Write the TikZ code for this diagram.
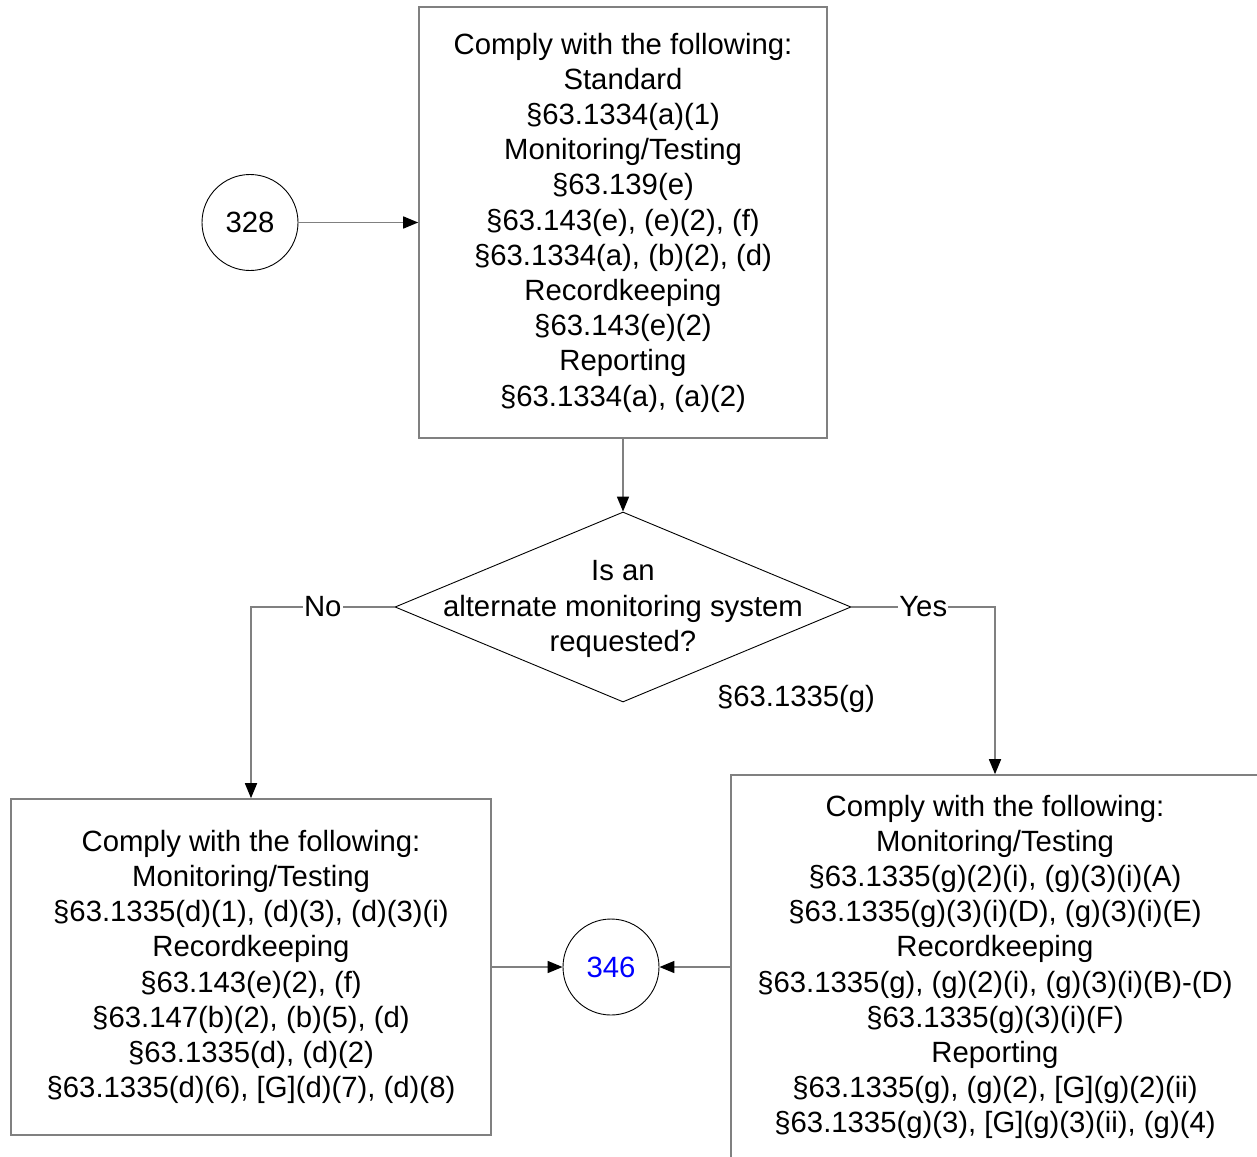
\documentclass[tikz,border=0pt]{standalone}
\usepackage{fontspec}
\setmainfont{Liberation Sans}
\usetikzlibrary{arrows.meta,shapes.geometric}
\definecolor{edgegray}{RGB}{128,128,128}
\definecolor{numblue}{RGB}{0,0,255}
\begin{document}
\begin{tikzpicture}[x=1pt,y=-1pt,
  font=\fontsize{29.3}{35.2}\selectfont,
  box/.style={draw=edgegray,line width=1.6pt,rectangle,align=center,inner sep=0pt},
  conn/.style={draw=edgegray,line width=1.6pt,-{Triangle[length=15pt,width=12pt,color=black]}},
  refcircle/.style={circle,draw=black,line width=0.9pt,minimum size=96pt,inner sep=0pt},
  lbl/.style={fill=white,inner sep=1pt}]
\useasboundingbox (0,0) rectangle (1257,1156);
\fill[white] (0,0) rectangle (1257,1156);

\node[box,minimum width=408pt,minimum height=431pt] (top) at (623,222.5)
 {Comply with the following:\\Standard\\§63.1334(a)(1)\\Monitoring/Testing\\§63.139(e)\\§63.143(e), (e)(2), (f)\\§63.1334(a), (b)(2), (d)\\Recordkeeping\\§63.143(e)(2)\\Reporting\\§63.1334(a), (a)(2)};

\node[refcircle] (c328) at (250,222.5) {328};

\node[diamond,draw=black,line width=0.9pt,minimum width=456pt,minimum height=190pt,inner sep=0pt,aspect=2.4] (dia) at (623,607) {};
\node[align=center,inner sep=0pt] (diatext) at (623,609) {Is an\\alternate monitoring system\\requested?};
\node[inner sep=0pt] (ref) at (796,699) {§63.1335(g)};

\node[box,minimum width=480pt,minimum height=336pt] (left) at (251,967)
 {Comply with the following:\\Monitoring/Testing\\§63.1335(d)(1), (d)(3), (d)(3)(i)\\Recordkeeping\\§63.143(e)(2), (f)\\§63.147(b)(2), (b)(5), (d)\\§63.1335(d), (d)(2)\\§63.1335(d)(6), [G](d)(7), (d)(8)};

\node[box,minimum width=528pt,minimum height=384pt] (right) at (995,967)
 {Comply with the following:\\Monitoring/Testing\\§63.1335(g)(2)(i), (g)(3)(i)(A)\\§63.1335(g)(3)(i)(D), (g)(3)(i)(E)\\Recordkeeping\\§63.1335(g), (g)(2)(i), (g)(3)(i)(B)-(D)\\§63.1335(g)(3)(i)(F)\\Reporting\\§63.1335(g), (g)(2), [G](g)(2)(ii)\\§63.1335(g)(3), [G](g)(3)(ii), (g)(4)};

\node[refcircle,text=numblue] (c346) at (611,967) {346};

\draw[conn] (c328.east) -- (top.west |- c328.east);
\draw[conn] (top.south) -- (dia.north);
\draw[conn] (dia.west) -| node[lbl,pos=0.25] {No} (left.north);
\draw[conn] (dia.east) -| node[lbl,pos=0.25] {Yes} (right.north);
\draw[conn] (left.east |- c346.west) -- (c346.west);
\draw[conn] (right.west |- c346.east) -- (c346.east);
\end{tikzpicture}
\end{document}
